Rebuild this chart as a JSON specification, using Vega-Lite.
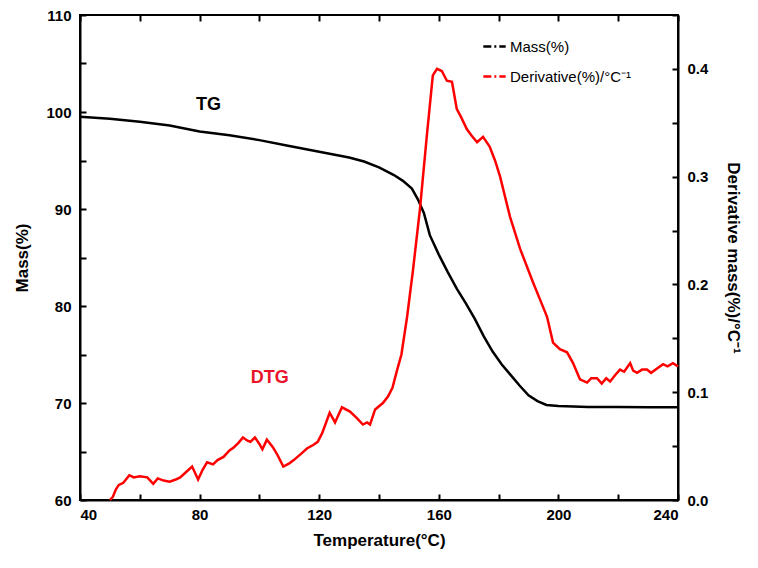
{
  "$schema": "https://vega.github.io/schema/vega-lite/v6.json",
  "width": 598,
  "height": 485,
  "autosize": {"type": "none"},
  "padding": {"left": 80, "top": 15, "right": 80, "bottom": 68},
  "background": "white",
  "config": {
    "view": {"stroke": "black", "strokeWidth": 2},
    "axis": {
      "grid": false,
      "domainColor": "black",
      "domainWidth": 2,
      "tickColor": "black",
      "tickWidth": 2,
      "labelFont": "Liberation Sans",
      "labelFontWeight": "bold",
      "labelFontSize": 15,
      "labelColor": "black",
      "titleFont": "Liberation Sans",
      "titleFontWeight": "bold",
      "titleFontSize": 17,
      "titleColor": "black"
    },
    "legend": {
      "orient": "none",
      "legendX": 402,
      "legendY": 19,
      "symbolType": "stroke",
      "symbolStrokeWidth": 2.5,
      "symbolSize": 500,
      "symbolDash": [8, 3, 2, 3],
      "labelFont": "Liberation Sans",
      "labelFontSize": 15,
      "labelColor": "black",
      "labelOffset": 3,
      "rowPadding": 9,
      "title": null
    }
  },
  "datasets": {
    "tg": [
      {"T": 40, "mass": 99.5}, {"T": 50, "mass": 99.3}, {"T": 60, "mass": 99.0}, {"T": 70, "mass": 98.6},
      {"T": 80, "mass": 98.0}, {"T": 90, "mass": 97.6}, {"T": 100, "mass": 97.1}, {"T": 110, "mass": 96.5},
      {"T": 120, "mass": 95.9}, {"T": 130, "mass": 95.3}, {"T": 135, "mass": 94.9}, {"T": 140, "mass": 94.3},
      {"T": 145, "mass": 93.5}, {"T": 148, "mass": 92.9}, {"T": 151, "mass": 92.1}, {"T": 153, "mass": 91.0},
      {"T": 155, "mass": 89.6}, {"T": 157, "mass": 87.3}, {"T": 160, "mass": 85.3}, {"T": 163, "mass": 83.5},
      {"T": 166, "mass": 81.8}, {"T": 169, "mass": 80.3}, {"T": 172, "mass": 78.7}, {"T": 175, "mass": 76.9},
      {"T": 178, "mass": 75.3}, {"T": 181, "mass": 74.0}, {"T": 184, "mass": 72.9}, {"T": 187, "mass": 71.8},
      {"T": 190, "mass": 70.8}, {"T": 193, "mass": 70.2}, {"T": 196, "mass": 69.8}, {"T": 200, "mass": 69.7},
      {"T": 210, "mass": 69.6}, {"T": 220, "mass": 69.6}, {"T": 230, "mass": 69.55}, {"T": 240, "mass": 69.55}
    ],
    "dtg": [
      {"T": 50, "d": 0.0}, {"T": 51, "d": 0.003}, {"T": 52, "d": 0.01}, {"T": 53, "d": 0.014}, {"T": 54.5, "d": 0.016},
      {"T": 56.5, "d": 0.023}, {"T": 58, "d": 0.021}, {"T": 60, "d": 0.022}, {"T": 62.5, "d": 0.021}, {"T": 64.5, "d": 0.015},
      {"T": 66, "d": 0.02}, {"T": 68, "d": 0.018}, {"T": 70, "d": 0.017}, {"T": 72, "d": 0.019}, {"T": 73.5, "d": 0.021},
      {"T": 75.5, "d": 0.026}, {"T": 77.5, "d": 0.031}, {"T": 79.5, "d": 0.019}, {"T": 81, "d": 0.028}, {"T": 82.5, "d": 0.035},
      {"T": 84.5, "d": 0.033}, {"T": 86, "d": 0.037}, {"T": 88, "d": 0.04}, {"T": 90, "d": 0.046}, {"T": 91.5, "d": 0.049},
      {"T": 93, "d": 0.053}, {"T": 94.5, "d": 0.058}, {"T": 96, "d": 0.055}, {"T": 97, "d": 0.054}, {"T": 98.5, "d": 0.058},
      {"T": 100, "d": 0.052}, {"T": 101, "d": 0.047}, {"T": 102.5, "d": 0.056}, {"T": 104.5, "d": 0.049}, {"T": 106, "d": 0.042},
      {"T": 108, "d": 0.031}, {"T": 110, "d": 0.034}, {"T": 111.5, "d": 0.037}, {"T": 114, "d": 0.043}, {"T": 116, "d": 0.048},
      {"T": 118, "d": 0.051}, {"T": 119.5, "d": 0.054}, {"T": 121, "d": 0.062}, {"T": 123.5, "d": 0.081}, {"T": 125.3, "d": 0.072},
      {"T": 127.6, "d": 0.086}, {"T": 130.3, "d": 0.082}, {"T": 132.6, "d": 0.076}, {"T": 134.6, "d": 0.07}, {"T": 136, "d": 0.072},
      {"T": 137, "d": 0.07}, {"T": 138.7, "d": 0.084}, {"T": 141.3, "d": 0.09}, {"T": 143, "d": 0.096}, {"T": 144.5, "d": 0.104},
      {"T": 146, "d": 0.12}, {"T": 147.5, "d": 0.135}, {"T": 149.4, "d": 0.17}, {"T": 151.4, "d": 0.214}, {"T": 153.7, "d": 0.27},
      {"T": 156, "d": 0.338}, {"T": 158, "d": 0.394}, {"T": 159.4, "d": 0.4}, {"T": 161, "d": 0.398}, {"T": 162.7, "d": 0.389},
      {"T": 164.4, "d": 0.388}, {"T": 166, "d": 0.363}, {"T": 167.5, "d": 0.355}, {"T": 169.4, "d": 0.344}, {"T": 171, "d": 0.338},
      {"T": 172.8, "d": 0.332}, {"T": 174.8, "d": 0.337}, {"T": 177, "d": 0.328}, {"T": 178.8, "d": 0.315}, {"T": 180.5, "d": 0.3},
      {"T": 183.8, "d": 0.263}, {"T": 187.2, "d": 0.233}, {"T": 191.5, "d": 0.202}, {"T": 194, "d": 0.185}, {"T": 196.2, "d": 0.17},
      {"T": 198.2, "d": 0.146}, {"T": 200.5, "d": 0.14}, {"T": 202.9, "d": 0.137}, {"T": 204.9, "d": 0.127}, {"T": 207.2, "d": 0.112},
      {"T": 209.6, "d": 0.109}, {"T": 211, "d": 0.113}, {"T": 212.9, "d": 0.113}, {"T": 214.5, "d": 0.108}, {"T": 216, "d": 0.113},
      {"T": 217.3, "d": 0.11}, {"T": 219, "d": 0.116}, {"T": 220.6, "d": 0.121}, {"T": 222, "d": 0.119}, {"T": 224, "d": 0.127},
      {"T": 225, "d": 0.12}, {"T": 226.3, "d": 0.118}, {"T": 228, "d": 0.121}, {"T": 229.6, "d": 0.121}, {"T": 231, "d": 0.118},
      {"T": 233, "d": 0.122}, {"T": 235, "d": 0.126}, {"T": 236.5, "d": 0.124}, {"T": 238.3, "d": 0.127}, {"T": 240, "d": 0.124}
    ],
    "tglabel": [{"T": 83, "mass": 100.7, "label": "TG"}],
    "dtglabel": [{"T": 103.5, "d": 0.1135, "label": "DTG"}]
  },
  "layer": [
    {
      "layer": [
        {
          "data": {"name": "tg"},
          "mark": {"type": "line", "strokeWidth": 2.5},
          "encoding": {
            "x": {
              "field": "T", "type": "quantitative",
              "scale": {"domain": [40, 240], "nice": false, "zero": false},
              "axis": {
                "title": "Temperature(°C)",
                "tickCount": 10,
                "tickSize": -6,
                "labelExpr": "datum.value % 40 == 0 ? datum.label : ''",
                "labelPadding": 13,
                "titlePadding": 10
              }
            },
            "y": {
              "field": "mass", "type": "quantitative",
              "scale": {"domain": [60, 110], "nice": false, "zero": false},
              "axis": {
                "title": "Mass(%)",
                "orient": "left",
                "tickCount": 10,
                "tickSize": -6,
                "labelPadding": 15,
                "labelExpr": "datum.value % 10 == 0 ? datum.label : ''",
                "titlePadding": 14
              }
            },
            "color": {
              "datum": "Mass(%)",
              "type": "nominal",
              "scale": {"domain": ["Mass(%)", "Derivative(%)/°C⁻¹"], "range": ["black", "#ff0000"]}
            }
          }
        },
        {
          "data": {"name": "tglabel"},
          "mark": {"type": "text", "font": "Liberation Sans", "fontWeight": "bold", "fontSize": 18, "color": "black"},
          "encoding": {
            "x": {"field": "T", "type": "quantitative"},
            "y": {"field": "mass", "type": "quantitative"},
            "text": {"field": "label"}
          }
        }
      ]
    },
    {
      "layer": [
        {
          "data": {"name": "dtg"},
          "mark": {"type": "line", "strokeWidth": 2.5},
          "encoding": {
            "x": {
              "field": "T", "type": "quantitative",
              "scale": {"domain": [40, 240], "nice": false, "zero": false},
              "axis": {
                "orient": "top", "title": null, "labels": false, "domain": false,
                "tickCount": 10,
                "tickSize": -6
              }
            },
            "y": {
              "field": "d", "type": "quantitative",
              "scale": {"domain": [0, 0.45], "nice": false, "zero": false},
              "axis": {
                "title": "Derivative mass(%)/°C⁻¹",
                "orient": "right",
                "tickCount": 9,
                "tickSize": -6,
                "labelPadding": 15,
                "labelExpr": "(round(datum.value*100) % 10 == 0) ? format(datum.value, '.1f') : ''",
                "titlePadding": 16
              }
            },
            "color": {"datum": "Derivative(%)/°C⁻¹", "type": "nominal"}
          }
        },
        {
          "data": {"name": "dtglabel"},
          "mark": {"type": "text", "font": "Liberation Sans", "fontWeight": "bold", "fontSize": 18, "color": "#e8132b"},
          "encoding": {
            "x": {"field": "T", "type": "quantitative"},
            "y": {"field": "d", "type": "quantitative"},
            "text": {"field": "label"}
          }
        }
      ]
    }
  ],
  "resolve": {"scale": {"y": "independent"}, "axis": {"x": "independent"}}
}
